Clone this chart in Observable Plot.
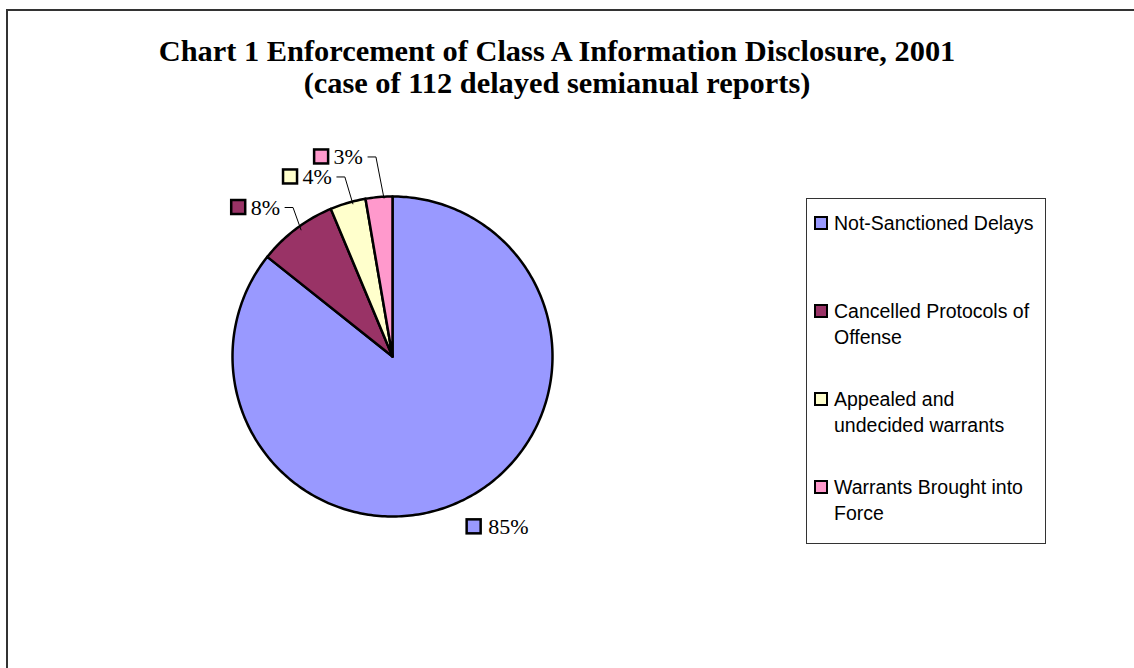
<!DOCTYPE html>
<html><head><meta charset="utf-8">
<script src="https://cdn.jsdelivr.net/npm/d3@7"></script>
<script src="https://cdn.jsdelivr.net/npm/@observablehq/plot@0.6"></script>
<style>
html,body{margin:0;padding:0;background:#fff}
body{width:1134px;height:668px;overflow:hidden;position:relative;font-family:"Liberation Sans",Arial,sans-serif}
#frame{position:absolute;left:6px;top:9px;width:1300px;height:800px;border-left:2px solid #333;border-top:2px solid #333;pointer-events:none}
#title{position:absolute;left:0;top:0;width:1114px;height:110px;box-sizing:border-box;padding-top:35px;text-align:center;font-family:"Liberation Serif","Times New Roman",serif;font-weight:bold;font-size:30.4px;line-height:32px;color:#000;white-space:nowrap}
#chart{position:absolute;left:0;top:110px}
#legend{position:absolute;left:806px;top:198px;width:240px;height:346px;border:1px solid #333;box-sizing:border-box;background:#fff}
.item{position:absolute;left:0;width:238px}
.sw{position:absolute;left:7px;top:6px;width:14px;height:14px;box-sizing:border-box;border:2.5px solid #000}
.lt{position:absolute;left:27px;width:210px;font-size:19.5px;line-height:26px;color:#000}
</style></head>
<body>
<div id="title">Chart 1 Enforcement of Class A Information Disclosure, 2001<br>(case of 112 delayed semianual reports)</div>
<div id="chart"></div>
<div id="legend"></div>
<div id="frame"></div>
<script>
// ---- data ----
const categories = ["Not-Sanctioned Delays", "Cancelled Protocols of Offense", "Appealed and undecided warrants", "Warrants Brought into Force"];
const shares = [85.7, 8.0, 3.6, 2.7];
const pctLabels = ["85%", "8%", "4%", "3%"];
const colors = ["#9999FF", "#993366", "#FFFFCC", "#FF99CC"];

// ---- geometry ----
const W = 1134, H = 668, top0 = 110;
const cx = 392, cy = 356, R = 160, off = 28;
const pie = d3.pie().sort(null).value(d => d)(shares);

const polys = [];
pie.forEach((p, i) => {
  const n = Math.max(4, Math.ceil((p.endAngle - p.startAngle) / (Math.PI / 180)));
  polys.push({k: i, x: cx, y: cy, c: colors[i]});
  for (let j = 0; j <= n; j++) {
    const a = p.startAngle + (p.endAngle - p.startAngle) * j / n;
    polys.push({k: i, x: cx + R * Math.sin(a), y: cy - R * Math.cos(a), c: colors[i]});
  }
  polys.push({k: i, x: cx, y: cy, c: colors[i]});
});

const ctx = document.createElement("canvas").getContext("2d");
ctx.font = "22px 'Liberation Serif'";

const labels = pie.map((p, i) => {
  const m = (p.startAngle + p.endAngle) / 2;
  return {i, m, left: Math.sin(m) < 0,
    ax: cx + R * Math.sin(m), ay: cy - R * Math.cos(m),
    ox: cx + (R + off) * Math.sin(m), oy: cy - (R + off) * Math.cos(m)};
});
// push left-side labels apart upward
const leftL = labels.filter(l => l.left);
for (let j = 1; j < leftL.length; j++) {
  if (leftL[j].oy > leftL[j - 1].oy - 20) leftL[j].oy = leftL[j - 1].oy - 20;
}
const textsL = [], textsR = [], swatches = [], leaders = [];
labels.forEach(l => {
  const w = ctx.measureText(pctLabels[l.i]).width;
  if (l.left) {
    const end = l.ax - 16;
    textsL.push({x: end, y: l.oy + 1, t: pctLabels[l.i]});
    swatches.push({x1: end - w - 19, x2: end - w - 5, y1: l.oy - 6, y2: l.oy + 8, c: colors[l.i]});
    leaders.push({k: l.i, x: l.ax + 5, y: l.ay + 1}, {k: l.i, x: l.ax - 3, y: l.oy + 1}, {k: l.i, x: l.ax - 11, y: l.oy + 1});
  } else {
    const s = l.ox - 7;
    swatches.push({x1: s, x2: s + 14, y1: l.oy - 6, y2: l.oy + 8, c: colors[l.i]});
    textsR.push({x: s + 21, y: l.oy + 1, t: pctLabels[l.i]});
  }
});
const fontF = "Liberation Serif, Times New Roman, serif";

const chart = Plot.plot({
  width: W, height: H - top0,
  marginTop: 0, marginBottom: 0, marginLeft: 0, marginRight: 0,
  x: {domain: [0, W], range: [0, W], axis: null},
  y: {domain: [top0, H], range: [0, H - top0], axis: null},
  color: {type: "identity"},
  style: {background: "transparent", overflow: "visible"},
  marks: [
    Plot.line(polys, {x: "x", y: "y", z: "k", fill: "c", stroke: "#000", strokeWidth: 2.5, strokeLinejoin: "round", curve: "linear"}),
    Plot.line(leaders, {x: "x", y: "y", z: "k", stroke: "#000", strokeWidth: 1, curve: "linear"}),
    Plot.rect(swatches, {x1: "x1", x2: "x2", y1: "y1", y2: "y2", fill: "c", stroke: "#000", strokeWidth: 2.5, inset: 0}),
    Plot.text(textsL, {x: "x", y: "y", text: "t", textAnchor: "end", fontSize: 22, fontFamily: fontF, fill: "#000", lineAnchor: "middle"}),
    Plot.text(textsR, {x: "x", y: "y", text: "t", textAnchor: "start", fontSize: 22, fontFamily: fontF, fill: "#000", lineAnchor: "middle"})
  ]
});
document.getElementById("chart").appendChild(chart);

// legend
const leg = document.getElementById("legend");
categories.forEach((c, i) => {
  const it = document.createElement("div");
  it.className = "item";
  it.style.top = (11 + i * 88) + "px";
  it.innerHTML = `<div class="sw" style="background:${colors[i]}"></div><div class="lt"></div>`;
  it.querySelector(".lt").textContent = c;
  leg.appendChild(it);
});
</script>
</body></html>
